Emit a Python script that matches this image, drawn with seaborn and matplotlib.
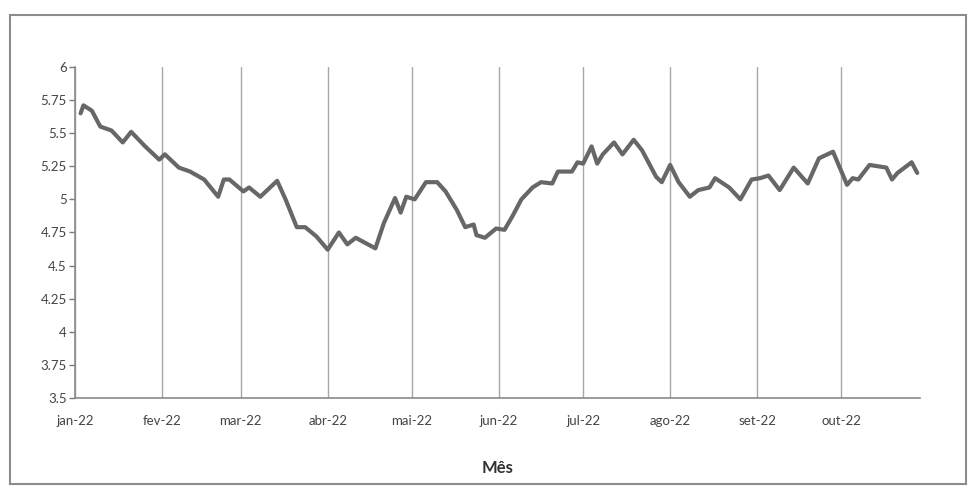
import pandas as pd
import seaborn as sns
import matplotlib.pyplot as plt
import matplotlib.transforms as mtransforms
from matplotlib.patches import Rectangle

# leituras aproximadas do gráfico (data, cotação)
datas = [
    "2022-01-03", "2022-01-04", "2022-01-07", "2022-01-10", "2022-01-14", "2022-01-18",
    "2022-01-21", "2022-01-26", "2022-01-31",
    "2022-02-02", "2022-02-07", "2022-02-11", "2022-02-16", "2022-02-21", "2022-02-23",
    "2022-02-25",
    "2022-03-02", "2022-03-04", "2022-03-08", "2022-03-14", "2022-03-17", "2022-03-21",
    "2022-03-24", "2022-03-28",
    "2022-04-01", "2022-04-05", "2022-04-08", "2022-04-11", "2022-04-18", "2022-04-21",
    "2022-04-25", "2022-04-27", "2022-04-29",
    "2022-05-02", "2022-05-06", "2022-05-10", "2022-05-13", "2022-05-17", "2022-05-20",
    "2022-05-23", "2022-05-24", "2022-05-27", "2022-05-31",
    "2022-06-03", "2022-06-06", "2022-06-09", "2022-06-13", "2022-06-16", "2022-06-20",
    "2022-06-22", "2022-06-27", "2022-06-29",
    "2022-07-01", "2022-07-04", "2022-07-06", "2022-07-08", "2022-07-12", "2022-07-15",
    "2022-07-19", "2022-07-22", "2022-07-27", "2022-07-29",
    "2022-08-01", "2022-08-04", "2022-08-08", "2022-08-11", "2022-08-15", "2022-08-17",
    "2022-08-22", "2022-08-26", "2022-08-30",
    "2022-09-02", "2022-09-05", "2022-09-09", "2022-09-14", "2022-09-19", "2022-09-23",
    "2022-09-28",
    "2022-10-03", "2022-10-05", "2022-10-07", "2022-10-11", "2022-10-17", "2022-10-19",
    "2022-10-21", "2022-10-26", "2022-10-28",
]
cotacao = [
    5.65, 5.71, 5.67, 5.55, 5.52, 5.43, 5.51, 5.40, 5.30,
    5.34, 5.24, 5.21, 5.15, 5.02, 5.15, 5.15,
    5.06, 5.09, 5.02, 5.14, 5.00, 4.79, 4.79, 4.72,
    4.62, 4.75, 4.66, 4.71, 4.63, 4.82, 5.01, 4.90, 5.02,
    5.00, 5.13, 5.13, 5.06, 4.92, 4.79, 4.81, 4.73, 4.71, 4.78,
    4.77, 4.88, 5.00, 5.09, 5.13, 5.12, 5.21, 5.21, 5.28,
    5.27, 5.40, 5.27, 5.34, 5.43, 5.34, 5.45, 5.37, 5.17, 5.13,
    5.26, 5.13, 5.02, 5.07, 5.09, 5.16, 5.09, 5.00, 5.15,
    5.16, 5.18, 5.07, 5.24, 5.12, 5.31, 5.36,
    5.11, 5.16, 5.15, 5.26, 5.24, 5.15, 5.20, 5.28, 5.20,
]
meses = ["2022-01-01", "2022-02-01", "2022-03-01", "2022-04-01", "2022-05-01",
         "2022-06-01", "2022-07-01", "2022-08-01", "2022-09-01", "2022-10-01"]
rotulos_meses = ["jan-22", "fev-22", "mar-22", "abr-22", "mai-22",
                 "jun-22", "jul-22", "ago-22", "set-22", "out-22"]
yticks = [3.5, 3.75, 4, 4.25, 4.5, 4.75, 5, 5.25, 5.5, 5.75, 6]

df = pd.DataFrame({"data": pd.to_datetime(datas), "cotacao": cotacao})

sns.set_style("white")
plt.rcParams['font.family'] = ['Lato', 'DejaVu Sans']

fig = plt.figure(figsize=(9.74, 4.96), dpi=100)
ax = fig.add_axes([0.077, 0.1976, 0.8676, 0.6674])

sns.lineplot(data=df, x="data", y="cotacao", ax=ax, color="#676767", linewidth=3)

ax.set_ylim(3.5, 6)
ax.set_xlim(pd.Timestamp("2022-01-01"), pd.Timestamp("2022-10-29"))
ax.set_yticks(yticks)
ax.set_yticklabels([f"{v:g}" for v in yticks])

ax.set_xticks(pd.to_datetime(meses))
ax.set_xticklabels(rotulos_meses)
offset = mtransforms.ScaledTranslation(0.14, 0, fig.dpi_scale_trans)
for lbl in ax.get_xticklabels():
    lbl.set_transform(lbl.get_transform() + offset)

ax.grid(axis="x", color="#a8a8a8", linewidth=1.0)
ax.grid(axis="y", visible=False)
ax.tick_params(axis="both", colors="#7a7a7a", labelcolor="#444444", labelsize=9.5,
               direction="out", length=4, width=1)
ax.tick_params(axis="x", pad=8)
ax.tick_params(axis="y", pad=2, left=True)

for s in ["top", "right"]:
    ax.spines[s].set_visible(False)
for s in ["left", "bottom"]:
    ax.spines[s].set_color("#8a8a8a")
    ax.spines[s].set_linewidth(1.2)

ax.set_xlabel("Mês", fontsize=12, fontweight="bold", color="#333333", labelpad=24)
ax.set_ylabel("")

fig.patches.append(Rectangle((0.010, 0.024), 0.982, 0.946, transform=fig.transFigure,
                             fill=False, edgecolor="#8c8c8c", linewidth=1.5))

fig.savefig("out.png", dpi=100, facecolor="white")
